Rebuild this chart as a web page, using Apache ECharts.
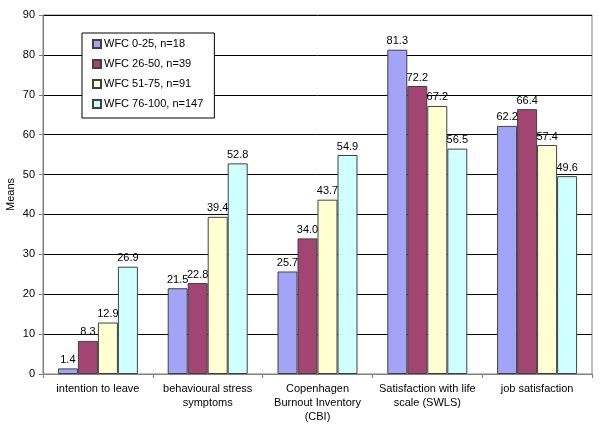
<!DOCTYPE html>
<html>
<head>
<meta charset="utf-8">
<script src="https://cdn.jsdelivr.net/npm/echarts@6/dist/echarts.min.js"></script>
<style>
  html, body { margin: 0; padding: 0; background: #fff; }
  #chart { width: 600px; height: 427px; }
</style>
</head>
<body>
<div id="chart"></div>
<script>
// Means by work-family conflict group
const categories = [
  'intention to leave',
  'behavioural stress\nsymptoms',
  'Copenhagen\nBurnout Inventory\n(CBI)',
  'Satisfaction with life\nscale (SWLS)',
  'job satisfaction'
]
const seriesNames = ['WFC 0-25, n=18', 'WFC 26-50, n=39', 'WFC 51-75, n=91', 'WFC 76-100, n=147']
const wfc0_25 = [1.4, 21.5, 25.7, 81.3, 62.2]
const wfc26_50 = [8.3, 22.8, 34.0, 72.2, 66.4]
const wfc51_75 = [12.9, 39.4, 43.7, 67.2, 57.4]
const wfc76_100 = [26.9, 52.8, 54.9, 56.5, 49.6]
const colors = ['#A3A3F7', '#A34573', '#FFFFD2', '#CFFFFF']

const values = [wfc0_25, wfc26_50, wfc51_75, wfc76_100]
const font = 'Liberation Sans, Arial, sans-serif'

const chart = echarts.init(document.getElementById('chart'))
chart.setOption({
  animation: false,
  textStyle: { fontFamily: font },
  grid: {
    left: 43, right: 8, top: 15, bottom: 53,
    outerBoundsMode: 'none',
    show: true, borderColor: '#808080', borderWidth: 1
  },
  legend: {
    orient: 'vertical',
    left: 82, top: 33,
    padding: [5, 11, 8, 10],
    itemGap: 8,
    itemWidth: 8, itemHeight: 8,
    backgroundColor: '#fff',
    borderColor: '#000', borderWidth: 1,
    textStyle: { fontSize: 11, lineHeight: 12, color: '#000', padding: [0, 0, 0, -2] },
    data: seriesNames.map(function (n) { return { name: n, icon: 'rect' } })
  },
  xAxis: {
    type: 'category',
    data: categories,
    axisLine: { lineStyle: { color: '#808080' } },
    axisTick: { show: true, length: 4, lineStyle: { color: '#808080' } },
    axisLabel: { fontSize: 11, color: '#000', lineHeight: 14, margin: 8, interval: 0 }
  },
  yAxis: {
    type: 'value',
    min: 0, max: 90, interval: 10,
    name: 'Means',
    nameLocation: 'middle',
    nameGap: 27,
    nameMoveOverlap: false,
    nameTextStyle: { fontSize: 11, color: '#000' },
    axisLine: { show: true, lineStyle: { color: '#808080' } },
    axisTick: { show: true, length: 4, lineStyle: { color: '#808080' } },
    axisLabel: { fontSize: 11, color: '#000', margin: 8 },
    splitLine: { lineStyle: { color: '#000', width: 1 } }
  },
  series: seriesNames.map(function (name, i) {
    return {
      name: name,
      type: 'bar',
      data: values[i],
      barWidth: 20,
      barGap: '0%',
      itemStyle: { color: colors[i], borderColor: '#404040', borderWidth: 1 },
      label: {
        show: true,
        position: 'top',
        distance: 3,
        fontSize: 11,
        color: '#000',
        formatter: function (p) { return p.value.toFixed(1) }
      }
    }
  })
})
</script>
</body>
</html>
